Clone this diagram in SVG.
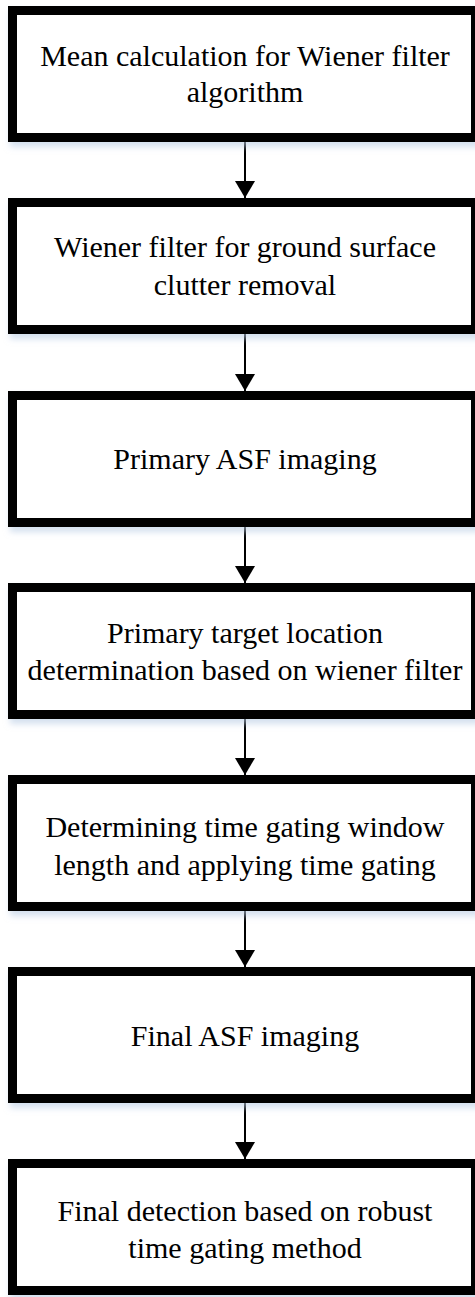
<svg xmlns="http://www.w3.org/2000/svg" width="475" height="1297" viewBox="0 0 475 1297">
<style>
.box{fill:#ffffff;stroke:#000000;stroke-width:9;filter:url(#sh)}
.lbl{font-family:'Liberation Serif','Times New Roman','DejaVu Serif',serif;font-size:30px;fill:#000000;text-anchor:middle}
.conn{stroke:#000000;stroke-width:2;fill:none;marker-end:url(#ah)}
</style>
<defs>
<filter id="sh" x="-5%" y="-5%" width="115%" height="125%">
<feDropShadow dx="2" dy="5" stdDeviation="3" flood-color="#b8cce4" flood-opacity="0.6"/>
</filter>
<marker id="ah" markerUnits="userSpaceOnUse" markerWidth="17" markerHeight="20" refX="17" refY="10" orient="auto">
<path d="M0,0 L17,10 L0,20 z" fill="#000000"/>
</marker>
</defs>
<rect width="475" height="1297" fill="#ffffff"/>
<g id="connectors">
<line class="conn" x1="245" y1="142" x2="245" y2="198"/>
<line class="conn" x1="245" y1="334" x2="245" y2="391"/>
<line class="conn" x1="245" y1="527" x2="245" y2="583"/>
<line class="conn" x1="245" y1="719" x2="245" y2="775"/>
<line class="conn" x1="245" y1="911" x2="245" y2="967"/>
<line class="conn" x1="245" y1="1103" x2="245" y2="1159"/>
</g>
<g font-family="Liberation Serif, serif">
<g id="n1">
<rect class="box" x="12.5" y="10.5" width="463" height="127"/>
<text class="lbl" x="245" y="65.5">Mean calculation for Wiener filter</text>
<text class="lbl" x="245" y="102">algorithm</text>
</g>
<g id="n2">
<rect class="box" x="12.5" y="202.5" width="463" height="127"/>
<text class="lbl" x="245" y="257">Wiener filter for ground surface</text>
<text class="lbl" x="245" y="294.5">clutter removal</text>
</g>
<g id="n3">
<rect class="box" x="12.5" y="395.5" width="463" height="127"/>
<text class="lbl" x="245" y="468.5">Primary ASF imaging</text>
</g>
<g id="n4">
<rect class="box" x="12.5" y="587.5" width="463" height="127"/>
<text class="lbl" x="245" y="642.5">Primary target location</text>
<text class="lbl" x="245" y="679.5">determination based on wiener filter</text>
</g>
<g id="n5">
<rect class="box" x="12.5" y="779.5" width="463" height="127"/>
<text class="lbl" x="245" y="837">Determining time gating window</text>
<text class="lbl" x="245" y="874.5">length and applying time gating</text>
</g>
<g id="n6">
<rect class="box" x="12.5" y="971.5" width="463" height="127"/>
<text class="lbl" x="245" y="1046">Final ASF imaging</text>
</g>
<g id="n7">
<rect class="box" x="12.5" y="1163.5" width="463" height="127"/>
<text class="lbl" x="245" y="1221">Final detection based on robust</text>
<text class="lbl" x="245" y="1258">time gating method</text>
</g>
</g>
</svg>
